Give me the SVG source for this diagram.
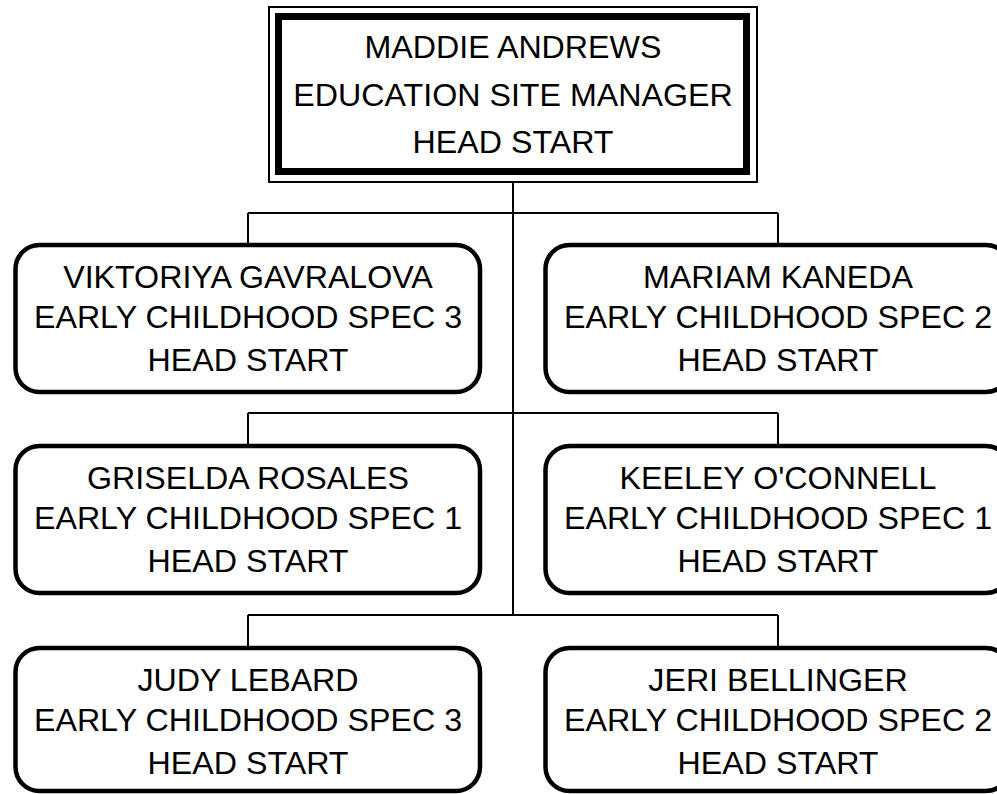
<svg xmlns="http://www.w3.org/2000/svg" width="997" height="794" viewBox="0 0 997 794">
<style>
.box{fill:#fff;stroke:#000;stroke-width:4.5}
.t{font-family:"Liberation Sans",Arial,sans-serif;font-size:32.2px;fill:#000;text-anchor:middle}
.c{fill:none;stroke:#000;stroke-width:2}
</style>
<rect width="997" height="794" fill="#fff"/>
<g id="connectors">
<path class="c" d="M513 182V615M248 213H778M248 213V245M778 213V245M248 413H778M248 413V446M778 413V446M248 615H778M248 615V648M778 615V648"/>
</g>
<g id="n0">
<rect x="269" y="7" width="488" height="175" fill="#fff" stroke="#000" stroke-width="2"/>
<rect x="278.5" y="16.5" width="468" height="155" fill="#fff" stroke="#000" stroke-width="7"/>
<text class="t" x="513" y="58">MADDIE ANDREWS</text>
<text class="t" x="513" y="106">EDUCATION SITE MANAGER</text>
<text class="t" x="513" y="153">HEAD START</text>
</g>
<g id="n1">
<rect class="box" x="15.5" y="245" width="464.5" height="147" rx="24"/>
<text class="t" x="248" y="288">VIKTORIYA GAVRALOVA</text>
<text class="t" x="248" y="328">EARLY CHILDHOOD SPEC 3</text>
<text class="t" x="248" y="371">HEAD START</text>
</g>
<g id="n2">
<rect class="box" x="545.5" y="245" width="464.5" height="147" rx="24"/>
<text class="t" x="778" y="288">MARIAM KANEDA</text>
<text class="t" x="778" y="328">EARLY CHILDHOOD SPEC 2</text>
<text class="t" x="778" y="371">HEAD START</text>
</g>
<g id="n3">
<rect class="box" x="15.5" y="446" width="464.5" height="147" rx="24"/>
<text class="t" x="248" y="489">GRISELDA ROSALES</text>
<text class="t" x="248" y="529">EARLY CHILDHOOD SPEC 1</text>
<text class="t" x="248" y="572">HEAD START</text>
</g>
<g id="n4">
<rect class="box" x="545.5" y="446" width="464.5" height="147" rx="24"/>
<text class="t" x="778" y="489">KEELEY O'CONNELL</text>
<text class="t" x="778" y="529">EARLY CHILDHOOD SPEC 1</text>
<text class="t" x="778" y="572">HEAD START</text>
</g>
<g id="n5">
<rect class="box" x="15.5" y="648" width="464.5" height="143" rx="24"/>
<text class="t" x="248" y="691">JUDY LEBARD</text>
<text class="t" x="248" y="731">EARLY CHILDHOOD SPEC 3</text>
<text class="t" x="248" y="774">HEAD START</text>
</g>
<g id="n6">
<rect class="box" x="545.5" y="648" width="464.5" height="143" rx="24"/>
<text class="t" x="778" y="691">JERI BELLINGER</text>
<text class="t" x="778" y="731">EARLY CHILDHOOD SPEC 2</text>
<text class="t" x="778" y="774">HEAD START</text>
</g>
</svg>
